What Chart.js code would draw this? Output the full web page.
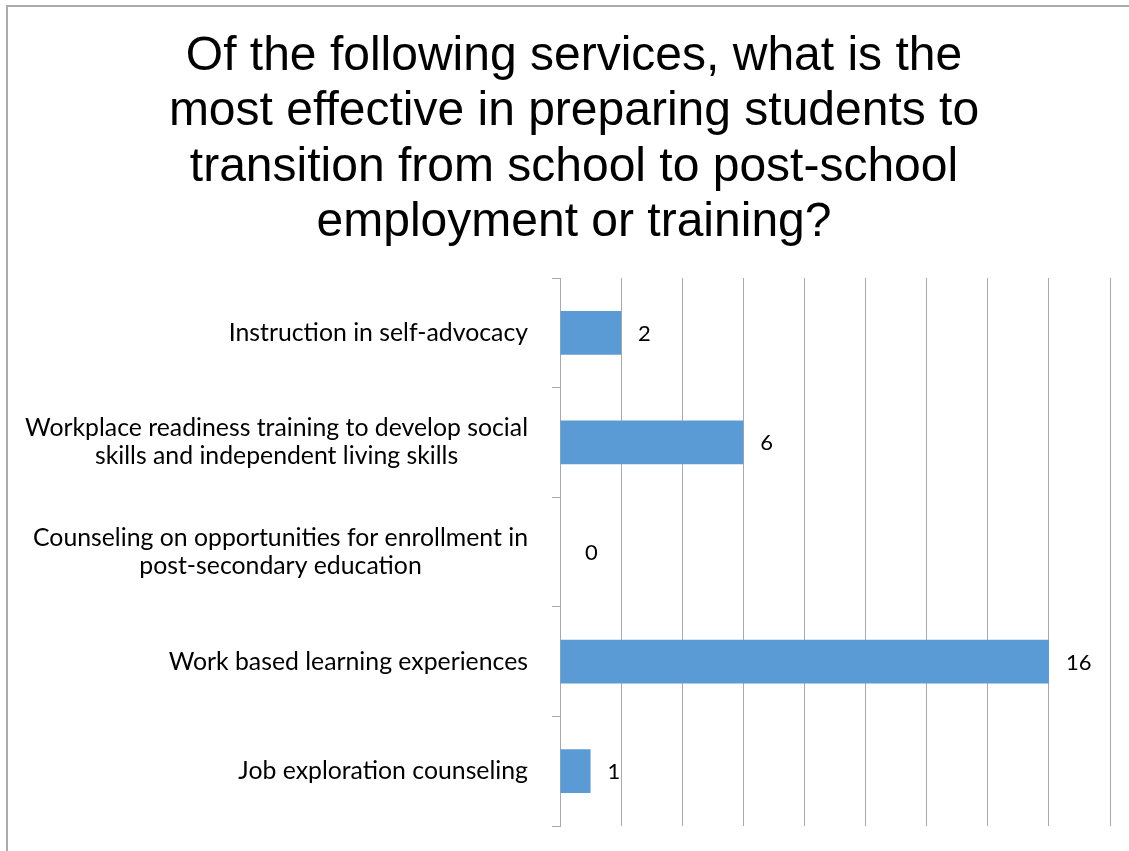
<!DOCTYPE html>
<html>
<head>
<meta charset="utf-8">
<script src="https://cdn.jsdelivr.net/npm/chart.js@4.4.1/dist/chart.umd.min.js"></script>
<style>
  html, body { margin: 0; padding: 0; background: #ffffff; overflow: hidden; }
  #wrap { position: relative; width: 1129px; height: 851px; }
  #frame { position: absolute; left: 6px; top: 5px; width: 3000px; height: 3000px;
           border-left: 2px solid #acacac; border-top: 2px solid #acacac; }
  canvas { position: absolute; left: 0; top: 0; }
</style>
</head>
<body>
<div id="wrap">
  <div id="frame"></div>
  <canvas id="c" width="1129" height="851"></canvas>
</div>
<script>
// ---- data ----
const titleLines = [
  "Of the following services, what is the",
  "most effective in preparing students to",
  "transition from school to post-school",
  "employment or training?"
];
const categories = [
  ["Instruction in self-advocacy"],
  ["Workplace readiness training to develop social", "skills and independent living skills"],
  ["Counseling on opportunities for enrollment in", "post-secondary education"],
  ["Work based learning experiences"],
  ["Job exploration counseling"]
];
const values = [2, 6, 0, 16, 1];
const xMin = 0, xMax = 18, xStep = 2;

const FAMILY = 'Lato, "Open Sans", sans-serif';
const VALUE_FONT = '22px ' + FAMILY;
const TITLE_FONT = '48px "Liberation Sans", Arial, sans-serif';

const customText = {
  id: 'customText',
  afterDraw(chart) {
    const ctx = chart.ctx;
    const y = chart.scales.y;
    const x = chart.scales.x;
    ctx.save();
    ctx.fillStyle = '#000000';
    // title
    ctx.font = TITLE_FONT;
    ctx.textAlign = 'center';
    ctx.textBaseline = 'alphabetic';
    const baselines0 = 70, titleStep = 55.3;
    titleLines.forEach((t, i) => ctx.fillText(t, 574, baselines0 + i * titleStep));
    // category labels: fit longest line to reference width
    ctx.font = '20px ' + FAMILY;
    let longest = 0;
    categories.forEach(ls => ls.forEach(l => { longest = Math.max(longest, ctx.measureText(l).width); }));
    const size = Math.min(26, 20 * 503 / longest);
    ctx.font = size.toFixed(2) + 'px ' + FAMILY;
    ctx.textBaseline = 'middle';
    const lineH = 28;
    categories.forEach((lines, i) => {
      const cy = y.getPixelForValue(i);
      const w = Math.max(...lines.map(l => ctx.measureText(l).width));
      const cx = 528 - w / 2;
      const top = cy - (lines.length - 1) * lineH / 2;
      lines.forEach((l, j) => ctx.fillText(l, cx, top + j * lineH));
    });
    // data labels
    ctx.font = VALUE_FONT;
    ctx.textAlign = 'left';
    const meta = chart.getDatasetMeta(0);
    meta.data.forEach((bar, i) => {
      const endX = x.getPixelForValue(values[i]);
      const off = values[i] === 0 ? 25 : 17;
      ctx.fillText(String(values[i]), endX + off, bar.y + 1);
    });
    ctx.restore();
  }
};

new Chart(document.getElementById('c'), {
  type: 'bar',
  data: {
    labels: categories,
    datasets: [{
      data: values,
      backgroundColor: '#5b9bd5',
      borderWidth: 0,
      barPercentage: 0.4,
      categoryPercentage: 1.0
    }]
  },
  options: {
    indexAxis: 'y',
    responsive: false,
    animation: false,
    events: [],
    layout: { padding: { left: 0, right: 19, top: 278, bottom: 25 } },
    plugins: { legend: { display: false }, title: { display: false }, tooltip: { enabled: false } },
    scales: {
      x: {
        min: xMin, max: xMax,
        ticks: { display: false, stepSize: xStep },
        grid: { color: '#a9a9a9', lineWidth: 1, drawTicks: false },
        border: { display: false },
        afterFit(s) { s.height = 0; }
      },
      y: {
        offset: true,
        ticks: { display: false },
        grid: { offset: true, drawOnChartArea: false, drawTicks: true, tickLength: 8, color: '#a9a9a9', lineWidth: 1 },
        border: { display: true, color: '#a9a9a9', width: 1 },
        afterFit(s) { s.width = 560; }
      }
    }
  },
  plugins: [customText]
});
</script>
</body>
</html>
